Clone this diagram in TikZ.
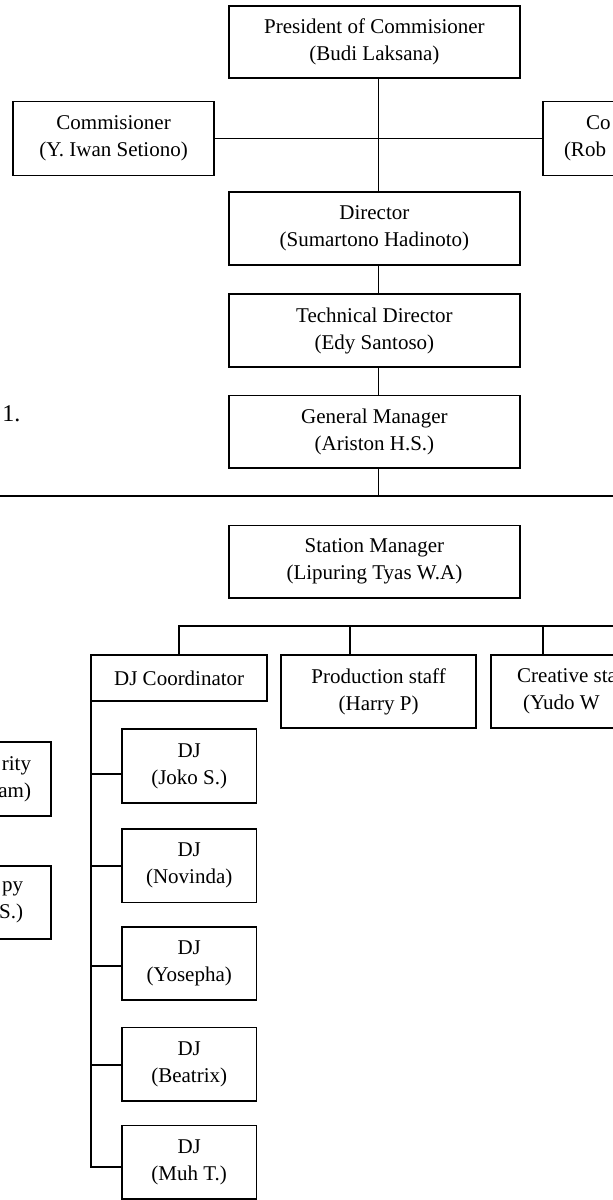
\documentclass[tikz,border=0pt]{standalone}
\usepackage{fontspec}
\setmainfont{Liberation Serif}
\newcommand{\boxfont}{\fontsize{10.5pt}{13.5pt}\selectfont}
\begin{document}
\begin{tikzpicture}[x=0.5pt,y=-0.5pt,line width=0.9pt,
  box/.style={draw, inner sep=0pt, outer sep=0pt, align=center, font=\boxfont},
  bigbox/.style={box, minimum width=145.6pt, minimum height=36.2pt},
  djbox/.style={box, minimum width=67.2pt, minimum height=36.8pt},
  lbl/.style={inner sep=0pt, outer sep=0pt, font=\boxfont},
  link/.style={draw, line width=0.9pt}]
\path[use as bounding box, fill=white] (0,0) rectangle (613,1200);
\clip (0,0) rectangle (613,1200);
\coordinate (spine) at (378.4,0);
% top level
\node[bigbox] (pres) at (374.4,42) {President of Commisioner\\(Budi Laksana)};
\node[box, minimum width=100.4pt, minimum height=37pt] (com1) at (113.6,138.5) {Commisioner\\(Y. Iwan Setiono)};
\node[box, minimum width=100.4pt, minimum height=37pt] (com2) at (643.2,138.5) {};
\node[lbl, anchor=west, align=left] (com2t) at (564,138.5) {\hspace*{11pt}Co\\(Rob};
\node[bigbox] (dir) at (374.4,228.5) {Director\\(Sumartono Hadinoto)};
\node[bigbox] (tech) at (374.4,330.5) {Technical Director\\(Edy Santoso)};
\node[bigbox] (gm) at (374.4,431.7) {General Manager\\(Ariston H.S.)};
\node[inner sep=0pt, anchor=base west, font=\fontsize{12pt}{14pt}\selectfont] (num) at (1.5,421) {1.};
\coordinate (hl) at (0,496);
\coordinate (hr) at (613,496);
\node[bigbox] (sm) at (374.4,561.7) {Station Manager\\(Lipuring Tyas W.A)};
% branch
\coordinate (brR) at (613,625.7);
\node[box, minimum width=88pt, minimum height=23pt] (djc) at (179.2,678) {DJ Coordinator};
\node[box, minimum width=97.4pt, minimum height=36.6pt] (prod) at (378.6,691.7) {Production staff\\(Harry P)};
\node[box, minimum width=88.2pt, minimum height=36.6pt] (crea) at (579,691.7) {};
\node[lbl, anchor=west, align=left] (creat) at (517.2,691.7) {Creative sta\\\hspace*{3pt}(Yudo W};
% left cut boxes
\node[box, minimum width=56.2pt, minimum height=37.2pt] (sec) at (-5,778.9) {};
\node[lbl, anchor=east, align=right] (sect) at (31,778.9) {rity\\am)};
\node[box, minimum width=56.2pt, minimum height=36.8pt] (ob) at (-5,902.5) {};
\node[lbl, anchor=east, align=right] (obt) at (23,902.5) {py\\S.)};
% DJs
\node[djbox] (dj1) at (189.2,765.9) {DJ\\(Joko S.)};
\node[djbox] (dj2) at (189.2,865.7) {DJ\\(Novinda)};
\node[djbox] (dj3) at (189.2,963.4) {DJ\\(Yosepha)};
\node[djbox] (dj4) at (189.2,1064.2) {DJ\\(Beatrix)};
\node[djbox] (dj5) at (189.2,1162.2) {DJ\\(Muh T.)};
% connectors
\draw[link] (pres.south -| spine) -- (dir.north -| spine);
\draw[link] (com1.east) -- (com2.west);
\draw[link] (dir.south -| spine) -- (tech.north -| spine);
\draw[link] (tech.south -| spine) -- (gm.north -| spine);
\draw[link] (gm.south -| spine) -- (hl -| spine);
\draw[link] (hl) -- (hr);
\draw[link] (djc.north) -- (djc.north |- brR) -- (brR);
\draw[link] ([xshift=-14.3pt]prod.north) -- ([xshift=-14.3pt]prod.north |- brR);
\draw[link] ([xshift=-17.9pt]crea.north) -- ([xshift=-17.9pt]crea.north |- brR);
\draw[link] (djc.south west) -- ([yshift=-2.25pt]dj5.west -| djc.south west) -- ([yshift=-2.25pt]dj5.west);
\draw[link] ([yshift=-4pt]dj1.west) -- ([yshift=-4pt]dj1.west -| djc.south west);
\draw[link] (dj2.west) -- (dj2.west -| djc.south west);
\draw[link] ([yshift=-1.3pt]dj3.west) -- ([yshift=-1.3pt]dj3.west -| djc.south west);
\draw[link] ([yshift=-0.4pt]dj4.west) -- ([yshift=-0.4pt]dj4.west -| djc.south west);
\end{tikzpicture}
\end{document}
